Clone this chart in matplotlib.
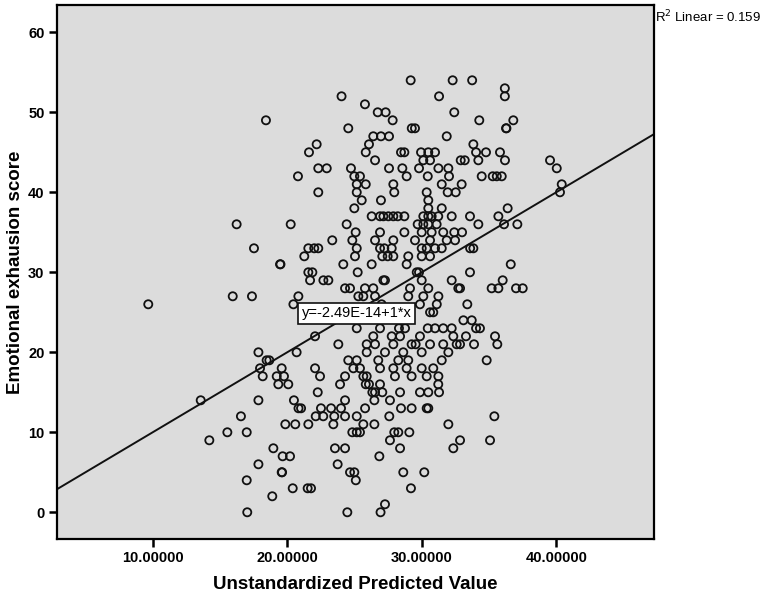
import matplotlib
matplotlib.use("Agg")
import matplotlib.pyplot as plt
import numpy as np

plt.rcParams['font.family'] = ['Liberation Sans', 'DejaVu Sans']

# emotional exhaustion score -> unstandardized predicted values
points = {
    54: [29.18, 32.3, 33.75],
    53: [36.18],
    52: [24.04, 31.29, 36.18],
    51: [25.78],
    50: [26.73, 27.32, 32.42],
    49: [18.42, 27.84, 34.28, 36.81],
    48: [24.54, 29.26, 29.5, 36.27, 36.3],
    47: [26.4, 26.97, 27.57, 31.86],
    46: [22.19, 26.08, 33.84],
    45: [21.62, 25.84, 28.46, 28.71, 29.95, 30.49, 30.99, 34.04, 34.78, 35.82],
    44: [26.53, 30.12, 30.62, 32.9, 33.2, 34.21, 36.19, 39.54],
    43: [22.31, 22.94, 24.74, 27.57, 28.56, 29.8, 31.24, 31.98, 40.04],
    42: [20.8, 24.99, 25.41, 28.88, 30.45, 32.03, 34.46, 35.28, 35.58, 35.95],
    41: [25.17, 25.84, 27.89, 31.49, 32.97, 40.41],
    40: [22.31, 25.17, 27.96, 30.37, 31.93, 32.53, 40.28],
    39: [25.54, 26.97, 30.49],
    38: [24.99, 30.49, 31.49, 36.39],
    37: [26.28, 26.9, 27.15, 27.52, 27.89, 28.22, 28.71, 30.12, 30.49, 30.74,
         31.23, 32.23, 33.59, 35.7],
    36: [16.24, 20.26, 24.42, 29.7, 30.12, 30.49, 31.11, 34.21, 36.12, 37.11],
    35: [25.09, 26.9, 28.71, 30.0, 30.74, 31.6, 32.42, 33.0],
    34: [23.35, 24.84, 26.53, 27.89, 29.5, 30.62, 31.86, 32.48],
    33: [17.53, 21.57, 22.01, 22.31, 25.17, 26.9, 27.22, 27.77, 30.0, 30.37,
         30.99, 31.49, 33.6, 33.84],
    32: [21.27, 25.04, 27.07, 27.47, 27.89, 29.0, 30.0, 30.62],
    31: [19.47, 19.5, 24.17, 26.28, 28.88, 36.62],
    30: [21.57, 21.87, 25.24, 29.63, 29.8, 33.59],
    29: [21.7, 22.69, 23.06, 27.15, 27.27, 30.0, 32.23, 36.02],
    28: [24.3, 24.67, 25.78, 26.4, 29.13, 30.49, 32.72, 32.85, 35.2, 35.7,
         37.01, 37.51],
    27: [15.95, 17.38, 20.83, 25.29, 25.66, 26.53, 29.0, 30.12, 31.24],
    26: [9.67, 20.46, 27.02, 29.87, 31.12, 33.39],
    25: [30.62, 30.86],
    24: [33.1, 33.72],
    23: [25.17, 26.9, 28.31, 28.76, 30.45, 30.99, 31.6, 32.23, 34.04, 34.33],
    22: [22.07, 26.4, 27.77, 28.39, 29.87, 32.35, 33.29, 35.45],
    21: [23.8, 25.91, 26.53, 27.89, 29.25, 29.55, 30.62, 31.6, 32.6, 32.85,
         33.89, 35.62],
    20: [17.86, 20.7, 25.91, 27.27, 28.63, 30.0, 31.98],
    19: [18.47, 18.67, 24.54, 25.17, 26.77, 28.26, 29.0, 31.49, 34.83],
    18: [17.98, 19.59, 22.07, 24.92, 25.41, 26.9, 27.89, 28.88, 30.0, 30.86],
    17: [18.18, 19.22, 19.76, 22.44, 24.3, 25.66, 25.91, 28.01, 29.25, 30.37,
         31.24],
    16: [19.34, 20.08, 23.93, 25.84, 26.08, 26.9, 31.23],
    15: [22.27, 26.33, 26.53, 27.07, 28.39, 29.87, 30.49, 31.29],
    14: [13.57, 17.86, 20.5, 24.3, 26.48, 27.64],
    13: [20.84, 21.03, 22.51, 23.26, 24.0, 25.79, 28.46, 29.25, 30.37, 30.49],
    12: [16.56, 22.12, 22.68, 23.5, 24.3, 25.17, 27.59, 35.4],
    11: [19.86, 20.6, 21.57, 23.43, 25.66, 26.48, 31.98],
    10: [15.55, 16.99, 24.84, 25.17, 25.41, 27.96, 28.26, 29.08],
    9: [14.21, 27.64, 32.85, 35.08],
    8: [18.97, 23.55, 24.3, 28.39, 32.35],
    7: [19.66, 20.21, 26.85],
    6: [17.86, 23.75],
    5: [19.59, 19.62, 24.67, 24.99, 28.63, 30.19],
    4: [16.99, 25.1],
    3: [20.41, 21.52, 21.77, 29.2],
    2: [18.89],
    1: [27.27],
    0: [17.03, 24.47, 26.94],
}
pred = np.array([x for s in points for x in points[s]])
score = np.array([s for s in points for x in points[s]])

intercept = -2.49e-14
slope = 1.0
r2 = 0.159
xticks = [10, 20, 30, 40]
yticks = [0, 10, 20, 30, 40, 50, 60]

fig = plt.figure(figsize=(7.67, 5.96), dpi=100)
ax = fig.add_axes([57 / 767, 1 - 539 / 596, 597 / 767, 534.3 / 596])
ax.set_facecolor('#dcdcdc')
ax.set_xlim(2.885, 47.27)
ax.set_ylim(-3.34, 63.45)

ax.scatter(pred, score, s=34, facecolors='none', edgecolors='#111111',
           linewidths=1.3, zorder=3)

xl = np.array(ax.get_xlim())
ax.plot(xl, intercept + slope * xl, color='#111111', lw=1.4, zorder=2)

ax.text(25.15, 24.85, 'y=-2.49E-14+1*x', fontsize=10.5,
        ha='center', va='center', zorder=5,
        bbox=dict(boxstyle='square,pad=0.25', fc='white', ec='#111111', lw=1.2))

ax.set_xticks(xticks)
ax.set_xticklabels(['%.5f' % v for v in xticks])
ax.set_yticks(yticks)
ax.tick_params(direction='out', length=6, width=1.8, labelsize=10.5, pad=3)
for lab in ax.get_xticklabels() + ax.get_yticklabels():
    lab.set_fontweight('bold')
for sp in ax.spines.values():
    sp.set_linewidth(1.6)

ax.set_xlabel('Unstandardized Predicted Value', fontsize=13.5, fontweight='bold')
ax.set_ylabel('Emotional exhausion score', fontsize=13.5, fontweight='bold')
ax.xaxis.set_label_coords(0.5, -0.07)
ax.yaxis.set_label_coords(-0.056, 0.5)

fig.text(655 / 767, 1 - 17 / 596, 'R$^2$ Linear = 0.159', fontsize=9.5,
         ha='left', va='center')

fig.savefig('out.png', dpi=100)
